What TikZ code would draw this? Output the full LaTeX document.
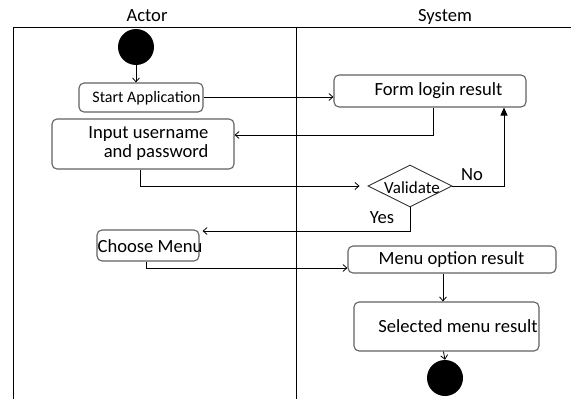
\documentclass[tikz,border=0pt]{standalone}
\usepackage{fontspec}
\setmainfont{Carlito}
\usetikzlibrary{arrows.meta,shapes.geometric}
\tikzset{
  box/.style={draw=black!62, line width=1.1pt, rounded corners=5pt, inner sep=0pt},
  txt/.style={inner sep=0pt, font=\fontsize{18.6}{19}\selectfont},
  smalltxt/.style={inner sep=0pt, font=\fontsize{16}{17}\selectfont},
  dot/.style={circle, fill=black, inner sep=0pt, minimum size=36pt},
  conn/.style={draw=black, line width=0.8pt},
  arr/.style={conn, -{Straight Barb[length=4pt,width=7pt]}},
  tarr/.style={conn, -{Triangle[length=8pt,width=7pt]}},
  lane/.style={draw=black, line width=0.8pt},
  dec/.style={diamond, aspect=2, draw=black!80, line width=0.9pt, inner sep=0pt, minimum width=84pt, minimum height=42pt}
}
\begin{document}
\begin{tikzpicture}[x=1pt,y=-1pt]
\useasboundingbox (0,0) rectangle (571,399);
% lanes
\draw[lane] (13,399) -- (13,27) -- (571,27);
\draw[lane] (296,27) -- (296,399);
\node[txt] (actor) at (147,16) {Actor};
\node[txt] (system) at (445,17) {System};
% nodes
\node[dot] (start) at (136,47) {};
\node[box, minimum width=124pt, minimum height=29pt] (startapp) at (141,97.5) {};
\node[smalltxt] (startapptxt) at (146.5,98) {Start Application};
\node[box, minimum width=182pt, minimum height=50pt] (input) at (143,144) {};
\node[txt, align=right] (inputtxt) at (148.5,143.5) {Input username\\and password};
\node[box, minimum width=192pt, minimum height=32pt] (form) at (430,91) {};
\node[txt] (formtxt) at (438.5,91) {Form login result};
\node[dec] (val) at (410,186) {};
\node[inner sep=0pt, font=\fontsize{17}{18}\selectfont] (valtxt) at (412,187.5) {Validate};
\node[txt] (no) at (472,175) {No};
\node[txt] (yes) at (382,218) {Yes};
\node[box, minimum width=102pt, minimum height=31pt] (choose) at (148,245.5) {};
\node[txt] (choosetxt) at (150,246) {Choose Menu};
\node[box, minimum width=208pt, minimum height=27pt] (menu) at (452,259.5) {};
\node[txt] (menutxt) at (451.5,260) {Menu option result};
\node[box, minimum width=185pt, minimum height=49pt] (sel) at (446.5,326.5) {};
\node[txt] (seltxt) at (458,326) {Selected menu result};
\node[dot] (end) at (445,378) {};
% connectors
\draw[arr] (start.south) -- (startapp.north -| start.south);
\draw[arr] (startapp.east |- 0,97) -- (form.west |- 0,97);
\draw[arr] ([xshift=3pt]form.south) |- ([yshift=9pt]input.east);
\draw[arr, shorten >=8pt] ([xshift=-3pt]input.south) |- (val.west);
\draw[tarr] (val.east) -| ([xshift=74pt]form.south);
\draw[arr] (val.south) |- ([xshift=3pt,yshift=14.5pt]choose.east);
\draw[arr] ([xshift=-2pt]choose.south) |- ([yshift=-8.5pt]menu.west);
\draw[arr] ([xshift=-9pt]menu.south) -- ([xshift=-9pt]menu.south |- sel.north);
\draw[arr] ([xshift=-3pt]sel.south) -- (end.north);
\end{tikzpicture}
\end{document}
